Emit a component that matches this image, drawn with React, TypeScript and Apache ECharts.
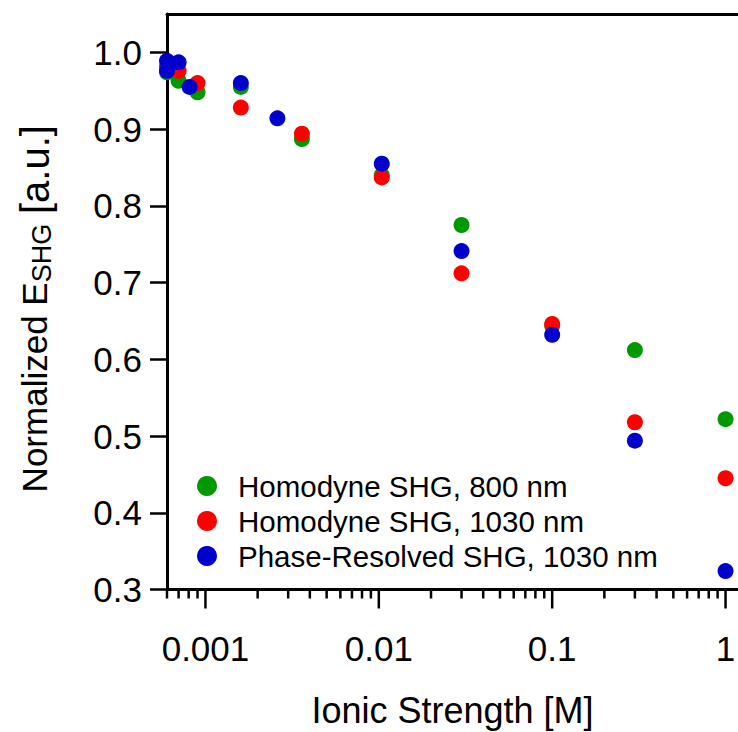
import React, { useEffect, useRef } from "react";
import * as echarts from "echarts";

const seriesNames = ["Homodyne SHG, 800 nm", "Homodyne SHG, 1030 nm", "Phase-Resolved SHG, 1030 nm"];
const seriesColors = ["#009900", "#ff0000", "#0000cc"];

const xGreen = [0.0006, 0.0007, 0.0009, 0.0016, 0.0036, 0.0104, 0.03, 0.1, 0.3, 1];
const yGreen = [0.974, 0.963, 0.948, 0.955, 0.887, 0.84, 0.775, 0.644, 0.612, 0.522];

const xRed = [0.0006, 0.0007, 0.0009, 0.0016, 0.0036, 0.0104, 0.03, 0.1, 0.3, 1];
const yRed = [0.982, 0.976, 0.96, 0.928, 0.894, 0.837, 0.712, 0.646, 0.518, 0.445];

const xBlue = [0.0006, 0.0006, 0.0007, 0.00081, 0.0016, 0.0026, 0.0104, 0.03, 0.1, 0.3, 1];
const yBlue = [0.989, 0.976, 0.987, 0.955, 0.96, 0.914, 0.855, 0.741, 0.632, 0.494, 0.324];

const yTicks = [0.3, 0.4, 0.5, 0.6, 0.7, 0.8, 0.9, 1.0];
const xMajorTicks = [0.001, 0.01, 0.1, 1];
const xMinorTicks = [
  0.0006, 0.0007, 0.0008, 0.0009,
  0.002, 0.003, 0.004, 0.005, 0.006, 0.007, 0.008, 0.009,
  0.02, 0.03, 0.04, 0.05, 0.06, 0.07, 0.08, 0.09,
  0.2, 0.3, 0.4, 0.5, 0.6, 0.7, 0.8, 0.9,
];

const X_MIN = 0.0006;
const X_MAX = 1.18;
const Y_MIN = 0.3;
const Y_MAX = 1.05;
const FONT = "Liberation Sans, Arial, sans-serif";

const zip = (xs: number[], ys: number[]) => xs.map((x, i) => [x, ys[i]]);

export default function App() {
  const ref = useRef<HTMLDivElement>(null);
  useEffect(() => {
    if (!ref.current) return;
    const chart = echarts.init(ref.current, null, { renderer: "svg" });
    const datasets = [zip(xGreen, yGreen), zip(xRed, yRed), zip(xBlue, yBlue)];
    const tickData = xMajorTicks
      .map((v) => [v, Y_MIN, 19])
      .concat(xMinorTicks.map((v) => [v, Y_MIN, 9]));
    chart.setOption({
      animation: false,
      backgroundColor: "#ffffff",
      grid: {
        left: 167,
        right: 0,
        top: 14,
        bottom: 142.5,
        containLabel: false,
        outerBoundsMode: "none",
      },
      legend: {
        data: seriesNames.map((n) => ({ name: n, icon: "circle" })),
        orient: "vertical",
        left: 192,
        top: 466,
        itemWidth: 20,
        itemHeight: 20,
        itemGap: 5,
        selectedMode: false,
        textStyle: {
          fontFamily: FONT,
          fontSize: 29.5,
          lineHeight: 29,
          color: "#000",
          padding: [0, 0, 0, 16],
        },
      },
      xAxis: [
        {
          type: "log",
          min: X_MIN,
          max: X_MAX,
          position: "bottom",
          name: "Ionic Strength [M]",
          nameLocation: "middle",
          nameGap: 103,
          nameTextStyle: { fontFamily: FONT, fontSize: 36, color: "#000" },
          axisLine: { show: true, onZero: false, lineStyle: { color: "#000", width: 3 } },
          axisTick: { show: false },
          minorTick: { show: false },
          splitLine: { show: false },
          axisLabel: {
            fontFamily: FONT,
            fontSize: 35,
            color: "#000",
            margin: 41,
            showMinLabel: false,
            showMaxLabel: false,
            formatter: (v: number) => String(Number(v.toPrecision(3))),
          },
        },
        {
          type: "log",
          min: X_MIN,
          max: X_MAX,
          position: "top",
          axisLine: { show: true, onZero: false, lineStyle: { color: "#000", width: 3 } },
          axisTick: { show: false },
          axisLabel: { show: false },
          splitLine: { show: false },
        },
      ],
      yAxis: {
        type: "value",
        min: Y_MIN,
        max: Y_MAX,
        interval: 0.1,
        name: "Normalized E{sub|SHG} {unit|[a.u.]}",
        nameLocation: "middle",
        nameGap: 112,
        nameTextStyle: {
          fontFamily: FONT,
          fontSize: 35,
          color: "#000",
          padding: [0, 14, 0, 0],
          rich: {
            sub: { fontFamily: FONT, fontSize: 27, color: "#000", padding: [14, 0, 0, 0] },
            unit: { fontFamily: FONT, fontSize: 40, color: "#000" },
          },
        },
        axisLine: { show: true, onZero: false, lineStyle: { color: "#000", width: 3 } },
        axisTick: {
          show: true,
          inside: false,
          length: 17,
          lineStyle: { color: "#000", width: 2.5 },
          customValues: yTicks,
        },
        splitLine: { show: false },
        axisLabel: {
          fontFamily: FONT,
          fontSize: 35,
          color: "#000",
          margin: 25,
          customValues: yTicks,
          formatter: (v: number) => v.toFixed(1),
        },
      },
      series: [
        ...seriesNames.map((name, i) => ({
          name,
          type: "scatter",
          data: datasets[i],
          symbol: "circle",
          symbolSize: 16,
          itemStyle: { color: seriesColors[i], opacity: 1 },
          emphasis: { disabled: true },
          z: 2 + i,
        })),
        {
          name: "xticks",
          type: "custom",
          xAxisIndex: 0,
          yAxisIndex: 0,
          clip: false,
          silent: true,
          z: 10,
          data: tickData,
          encode: { x: 0, y: 1 },
          renderItem: (_params: any, api: any) => {
            const p = api.coord([api.value(0), api.value(1)]);
            const len = api.value(2);
            return {
              type: "line",
              shape: { x1: p[0], y1: p[1], x2: p[0], y2: p[1] + len },
              style: { stroke: "#000", lineWidth: 2.5 },
            };
          },
        },
      ],
    });
    return () => chart.dispose();
  }, []);
  return (
    <div
      ref={ref}
      style={{ position: "fixed", left: 0, top: 0, width: 738, height: 732 }}
    />
  );
}
